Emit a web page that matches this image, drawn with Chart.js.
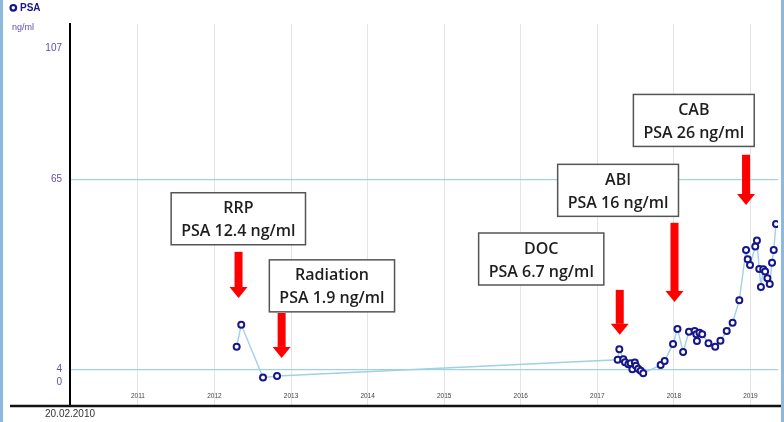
<!DOCTYPE html>
<html>
<head>
<meta charset="utf-8">
<script src="https://cdn.jsdelivr.net/npm/chart.js@4.4.1/dist/chart.umd.min.js"></script>
<style>
  html, body { margin: 0; padding: 0; background: #fff; }
  #wrap { width: 784px; height: 422px; position: relative; }
</style>
</head>
<body>
<div id="wrap"><canvas id="psaChart" width="784" height="422"></canvas></div>
<script>
/* ─── data ─── */
const dates = [
  '2012-04-16', '2012-05-08', '2012-08-20', '2012-10-26',
  '2017-04-08', '2017-04-16', '2017-05-05', '2017-05-13', '2017-05-29', '2017-06-09',
  '2017-06-17', '2017-06-29', '2017-07-04', '2017-07-15', '2017-07-27', '2017-08-08',
  '2017-10-30', '2017-11-18', '2017-12-28',
  '2018-01-18', '2018-02-14', '2018-03-14', '2018-04-10', '2018-04-18', '2018-04-21',
  '2018-05-03', '2018-05-16', '2018-06-15', '2018-07-17', '2018-08-11', '2018-09-10',
  '2018-10-08', '2018-11-09', '2018-12-11', '2018-12-19', '2018-12-30',
  '2019-01-24', '2019-02-01', '2019-02-12', '2019-02-20', '2019-03-03', '2019-03-12',
  '2019-03-23', '2019-04-03', '2019-04-14', '2019-04-22', '2019-05-03'
];
const psa = [
  11.3, 18.3, 1.4, 1.9,
  7.1, 10.5, 7.3, 6.3, 5.7, 6.0,
  4.1, 6.2, 5.2, 4.2, 3.6, 2.8,
  5.4, 6.7, 12.2,
  17.0, 9.6, 16.1, 16.3, 15.3, 13.1,
  15.8, 15.3, 12.4, 11.3, 13.2, 16.3,
  19.0, 26.2, 42.3, 39.3, 37.5,
  43.4, 45.3, 36.2, 30.4, 36.1, 35.4,
  33.2, 31.4, 38.2, 42.3, 50.6
];
const yTicks = [0, 4, 65, 107];
const yRefLines = [4, 65];
const yearTicks = [2011, 2012, 2013, 2014, 2015, 2016, 2017, 2018, 2019];
const startLabel = '20.02.2010';
const unitLabel = 'ng/ml';
const seriesName = 'PSA';

// annotations: text lines, box centre (date, value), arrow (date, top value, tip value)
const annText = [
  ['RRP', 'PSA 12.4 ng/ml'],
  ['Radiation', 'PSA 1.9 ng/ml'],
  ['DOC', 'PSA 6.7 ng/ml'],
  ['ABI', 'PSA 16 ng/ml'],
  ['CAB', 'PSA 26 ng/ml']
];
const annBoxDate = ['2012-04-24', '2013-07-15', '2016-04-08', '2017-04-10', '2018-04-06'];
const annBoxValue = [52.3, 30.8, 39.4, 61.4, 83.8];
const annArrowDate = ['2012-04-25', '2012-11-17', '2017-04-18', '2018-01-04', '2018-12-11'];
const annArrowTop = [41.7, 22.1, 29.5, 51.0, 72.8];
const annArrowTip = [26.9, 7.7, 15.1, 25.6, 56.7];

// axis range
const xMin = 2010.113, xMax = 2019.36;
const yMin = -7.7, yMax = 114.7;

function toYear(s) {
  const d = new Date(s + 'T00:00:00Z');
  const y = d.getUTCFullYear();
  const start = Date.UTC(y, 0, 1), len = Date.UTC(y + 1, 0, 1) - start;
  return y + (d.getTime() - start) / len;
}

const TICK_COLOR = '#5b4fb3';
const NAVY = '#16168a';
const REF_BLUE = '#9fd2e4';

const extras = {
  id: 'extras',
  afterDraw(chart) {
    const ctx = chart.ctx, a = chart.chartArea;
    const xs = chart.scales.x, ys = chart.scales.y;
    ctx.save();

    // year labels inside plot, above the axis line
    ctx.fillStyle = '#444';
    ctx.font = '6.5px Arial';
    ctx.textAlign = 'center';
    ctx.textBaseline = 'middle';
    yearTicks.forEach(function (yr) { ctx.fillText(String(yr), xs.getPixelForValue(yr), a.bottom - 10); });

    // bottom axis line
    ctx.strokeStyle = '#111';
    ctx.lineWidth = 2.5;
    ctx.beginPath(); ctx.moveTo(10, a.bottom); ctx.lineTo(chart.width, a.bottom); ctx.stroke();

    ctx.fillStyle = '#333';
    ctx.font = '10px Arial';
    ctx.fillText(startLabel, a.left, a.bottom + 8);

    // unit + legend
    ctx.fillStyle = TICK_COLOR;
    ctx.font = '9px Arial';
    ctx.textAlign = 'left';
    ctx.fillText(unitLabel, 12, 28);

    ctx.strokeStyle = NAVY;
    ctx.lineWidth = 2.2;
    ctx.beginPath(); ctx.arc(13.3, 7.8, 2.8, 0, Math.PI * 2); ctx.stroke();
    ctx.fillStyle = NAVY;
    ctx.font = 'bold 10px Arial';
    ctx.fillText(seriesName, 20, 8);

    // annotations
    ctx.font = '600 16px "Open Sans"';
    annText.forEach(function (lines, i) {
      // arrow
      const ax = xs.getPixelForValue(toYear(annArrowDate[i]));
      const top = ys.getPixelForValue(annArrowTop[i]);
      const tip = ys.getPixelForValue(annArrowTip[i]);
      const head = 11;
      ctx.fillStyle = '#ff0000';
      ctx.fillRect(ax - 4, top, 8, tip - top - head);
      ctx.beginPath();
      ctx.moveTo(ax - 9, tip - head); ctx.lineTo(ax + 9, tip - head); ctx.lineTo(ax, tip);
      ctx.closePath(); ctx.fill();

      // box
      const cx = xs.getPixelForValue(toYear(annBoxDate[i]));
      const cy = ys.getPixelForValue(annBoxValue[i]);
      const w = Math.max.apply(null, lines.map(function (t) { return ctx.measureText(t).width; })) + 20;
      const h = 52;
      ctx.fillStyle = '#fff';
      ctx.fillRect(cx - w / 2, cy - h / 2, w, h);
      ctx.strokeStyle = '#555';
      ctx.lineWidth = 1.5;
      ctx.strokeRect(cx - w / 2, cy - h / 2, w, h);
      ctx.fillStyle = '#1e1e1e';
      ctx.textAlign = 'center';
      ctx.textBaseline = 'middle';
      ctx.fillText(lines[0], cx, cy - 10);
      ctx.fillText(lines[1], cx, cy + 13);
    });

    // side borders
    ctx.fillStyle = '#8db9de';
    ctx.fillRect(0, 0, 3, chart.height);
    ctx.fillRect(chart.width - 3, 0, 3, chart.height);
    ctx.restore();
  }
};

new Chart(document.getElementById('psaChart'), {
  type: 'line',
  data: {
    datasets: [{
      label: seriesName,
      data: dates.map(function (d, i) { return { x: toYear(d), y: psa[i] }; }),
      borderColor: REF_BLUE,
      borderWidth: 1.4,
      tension: 0,
      pointRadius: 3,
      pointBorderWidth: 2,
      pointBorderColor: NAVY,
      pointBackgroundColor: '#fff'
    }]
  },
  options: {
    responsive: false,
    animation: false,
    devicePixelRatio: 1,
    layout: { padding: { top: 24, right: 2, left: 0, bottom: 0 } },
    plugins: { legend: { display: false }, tooltip: { enabled: false } },
    scales: {
      x: {
        type: 'linear', min: xMin, max: xMax,
        afterFit: function (s) { s.height = 16; },
        afterBuildTicks: function (s) { s.ticks = yearTicks.map(function (v) { return { value: v }; }); },
        ticks: { display: false },
        grid: { color: '#e4e4e4', drawTicks: false },
        border: { display: false }
      },
      y: {
        min: yMin, max: yMax,
        afterFit: function (s) { s.width = 70; },
        afterBuildTicks: function (s) { s.ticks = yTicks.map(function (v) { return { value: v }; }); },
        ticks: { color: TICK_COLOR, font: { size: 10, family: 'Arial' }, padding: 8, autoSkip: false },
        grid: {
          drawTicks: false,
          lineWidth: 1.2,
          color: function (c) { return (c.tick && yRefLines.indexOf(c.tick.value) >= 0) ? REF_BLUE : 'rgba(0,0,0,0)'; }
        },
        border: { color: '#000', width: 2 }
      }
    }
  },
  plugins: [extras]
});
</script>
</body>
</html>
